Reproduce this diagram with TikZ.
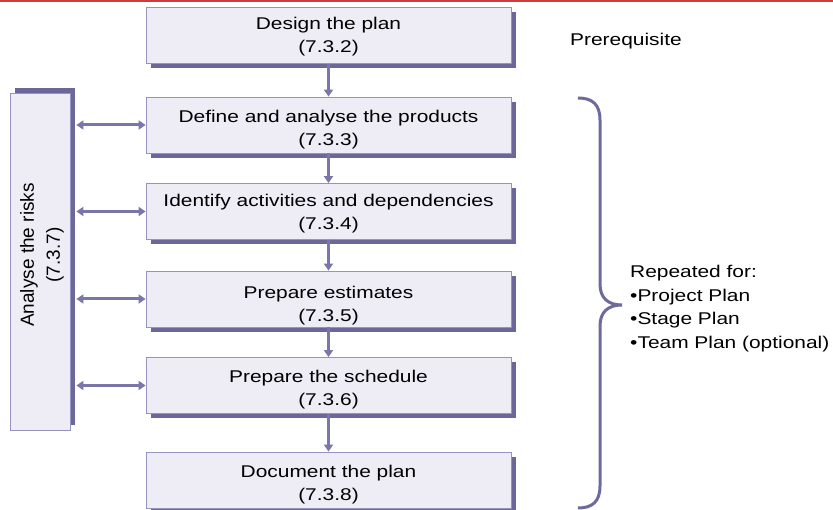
\documentclass[tikz,border=0pt]{standalone}
\usepackage{fontspec}
\setmainfont{Liberation Sans}[FakeStretch=1.23]
\newfontfamily\rotfont{Liberation Sans}
\usetikzlibrary{shadows,arrows.meta}
\definecolor{boxfill}{RGB}{238,237,246}
\definecolor{boxline}{RGB}{150,147,190}
\definecolor{shadowc}{RGB}{108,103,155}
\definecolor{arrowc}{RGB}{122,118,170}
\definecolor{bracec}{RGB}{110,106,156}
\definecolor{topred}{RGB}{205,60,60}
\newcommand{\lowstrut}{\rule{0pt}{21pt}}
\tikzset{
  stepbox/.style={draw=boxline, line width=0.8pt, fill=boxfill,
    minimum width=365pt, minimum height=56pt, inner sep=0pt,
    align=center, font=\fontsize{17}{23}\selectfont,
    general shadow={fill=shadowc, shadow xshift=5pt, shadow yshift=-5pt}},
  riskbox/.style={draw=boxline, line width=0.8pt, fill=boxfill,
    minimum width=60pt, minimum height=337pt, inner sep=0pt,
    general shadow={fill=shadowc, shadow xshift=5pt, shadow yshift=5pt}},
  flow/.style={draw=arrowc, line width=3pt, -{Triangle[length=7pt,width=9pt]}},
  both/.style={draw=arrowc, line width=3pt, {Triangle[length=7pt,width=9pt]}-{Triangle[length=7pt,width=9pt]}},
  bracestyle/.style={draw=bracec, line width=3pt},
  plain/.style={inner sep=0pt, align=left, font=\fontsize{17}{23.5}\selectfont}
}
\begin{document}
\begin{tikzpicture}[x=1pt,y=-1pt]
\useasboundingbox (0,0) rectangle (833,510);
\fill[white] (0,0) rectangle (833,510);
\fill[topred] (0,0) rectangle (833,2);

\node[stepbox] (b1) at (328.5,35.5) {\rule{0pt}{15pt}Design the plan\\(7.3.2)};
\node[stepbox] (b2) at (328.5,125) {\lowstrut Define and analyse the products\\(7.3.3)};
\node[stepbox] (b3) at (328.5,211.5) {\rule{0pt}{17pt}Identify activities and dependencies\\(7.3.4)};
\node[stepbox] (b4) at (328.5,299) {\rule{0pt}{25pt}Prepare estimates\\(7.3.5)};
\node[stepbox] (b5) at (328.5,385.5) {\lowstrut Prepare the schedule\\(7.3.6)};
\node[stepbox] (b6) at (328.5,480) {\lowstrut Document the plan\\(7.3.8)};

\node[riskbox] (risk) at (40,261.5) {};
\node[rotate=90, align=center, inner sep=0pt, font=\rotfont\fontsize{19}{26}\selectfont] (risktext) at (42,255) {Analyse the risks\\(7.3.7)};

\draw[flow] (b1.south) -- (b2.north);
\draw[flow] (b2.south) -- (b3.north);
\draw[flow] (b3.south) -- (b4.north);
\draw[flow] (b4.south) -- (b5.north);
\draw[flow] (b5.south) -- (b6.north);

\foreach \b in {b2,b3,b4,b5}{
  \draw[both] ([xshift=6pt]risk.east |- \b.west) -- (\b.west);
}

\node[plain, anchor=base west] (pre) at (570,46) {Prerequisite};

\draw[bracestyle] (578,98) .. controls (592,98) and (600,104) .. (600,120)
  -- (600,284) .. controls (600,298) and (608,305) .. (622,305)
  .. controls (608,305) and (600,312) .. (600,326)
  -- (600,486) .. controls (600,502) and (592,508) .. (578,508);

\node[plain, anchor=north west] (rep) at (630,265) {Repeated for:\\\textbullet Project Plan\\\textbullet Stage Plan\\\textbullet Team Plan (optional)};
\end{tikzpicture}
\end{document}
